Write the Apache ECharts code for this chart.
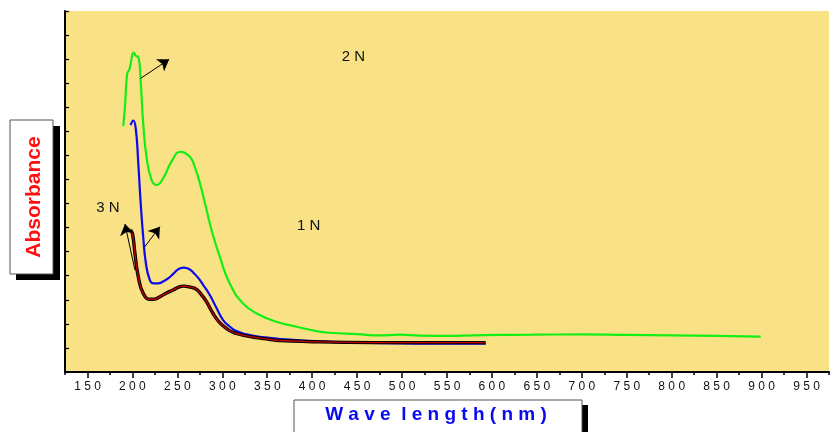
<!DOCTYPE html>
<html>
<head>
<meta charset="utf-8">
<script src="https://cdn.jsdelivr.net/npm/echarts@6/dist/echarts.min.js"></script>
<style>
  html, body { margin: 0; padding: 0; background: #ffffff; }
  #chart { width: 831px; height: 432px; }
</style>
</head>
<body>
<div id="chart"></div>
<script>
// UV-Vis absorbance spectra (wavelength in nm, absorbance in a.u.)
const wl2N = [189.8, 191.7, 194.2, 196.5, 201.7, 203.9, 206.5, 209.1, 212, 215.7, 221.3, 226.9, 234.2, 243.5, 253.5, 263.9, 270, 276, 282, 288, 297.2, 308.3, 323.1, 341.7, 360.2, 382.4, 404.7, 419.4, 450, 475, 497, 520, 549, 580, 608, 645, 700, 750, 800, 850, 899];
const abs2N = [1.022, 1.102, 1.241, 1.255, 1.327, 1.313, 1.31, 1.213, 1.033, 0.894, 0.798, 0.777, 0.805, 0.874, 0.915, 0.894, 0.845, 0.772, 0.682, 0.59, 0.479, 0.368, 0.285, 0.237, 0.209, 0.188, 0.170, 0.163, 0.157, 0.152, 0.155, 0.151, 0.150, 0.152, 0.154, 0.155, 0.156, 0.154, 0.152, 0.150, 0.147];

const wl1N = [198, 201, 203.9, 206.5, 209.1, 212, 215, 219.4, 223.5, 228.7, 234, 239.8, 246, 251, 257, 263, 268, 273, 278.7, 286.1, 293, 300.9, 308, 315.7, 326.9, 340, 352.8, 363.9, 382.4, 410, 438, 480, 530, 593];
const abs1N = [1.026, 1.045, 1.005, 0.87, 0.708, 0.562, 0.452, 0.382, 0.368, 0.368, 0.376, 0.389, 0.41, 0.427, 0.434, 0.428, 0.412, 0.392, 0.362, 0.32, 0.27, 0.216, 0.19, 0.17, 0.157, 0.147, 0.142, 0.137, 0.133, 0.127, 0.122, 0.12, 0.118, 0.118];

const wl3N = [198, 200.2, 202.8, 206.5, 212, 219.4, 225, 230.6, 238, 245.3, 251, 257, 263, 271.3, 278.7, 282.4, 289.8, 296, 300.9, 308, 315.7, 326.9, 338, 352, 363.9, 400, 438, 500, 593];
const abs3N = [0.59, 0.573, 0.493, 0.396, 0.327, 0.302, 0.303, 0.313, 0.328, 0.341, 0.352, 0.357, 0.354, 0.343, 0.312, 0.292, 0.243, 0.21, 0.192, 0.172, 0.16, 0.15, 0.143, 0.136, 0.131, 0.126, 0.123, 0.122, 0.122];

// Tick values on the wavelength axis
const majorTicks = [150, 200, 250, 300, 350, 400, 450, 500, 550, 600, 650, 700, 750, 800, 850, 900, 950];
const minorTicks = [125, 175, 225, 275, 325, 375, 425, 475, 525, 575, 625, 675, 725, 775, 825, 875, 925, 975];

// Curve annotations: label text and [wavelength, absorbance] anchor
const annoText = ['2 N', '1 N', '3 N'];
const annoPos = [[446, 1.309], [396, 0.607], [172.8, 0.681]];

// Arrows: [tail, head] in data coordinates
const arrows = [
  [[209.1, 1.220], [240.9, 1.299]],
  [[213.9, 0.521], [230.6, 0.604]],
  [[202.8, 0.424], [191.7, 0.615]]
];

const zip = (xs, ys) => xs.map((x, i) => [x, ys[i]]);

const chart = echarts.init(document.getElementById('chart'), null, { renderer: 'canvas' });

const option = {
  animation: false,
  backgroundColor: '#ffffff',
  grid: {
    left: 65, right: 2, top: 11, bottom: 60,
    show: true, backgroundColor: '#F9E286', borderWidth: 0
  },
  xAxis: [
    {
      type: 'value', min: 125, max: 975, position: 'bottom',
      axisLine: { show: true, lineStyle: { color: '#000', width: 2 } },
      axisTick: { show: true, customValues: majorTicks, length: 6, lineStyle: { color: '#000', width: 1.5 } },
      axisLabel: {
        customValues: majorTicks, margin: 9,
        formatter: v => String(v).split('').join(' '),
        fontFamily: 'Liberation Sans, Arial, sans-serif', fontSize: 12, color: '#111'
      },
      splitLine: { show: false }
    },
    {
      type: 'value', min: 125, max: 975, position: 'bottom',
      axisLine: { show: false },
      axisTick: { show: true, customValues: minorTicks, length: 3, lineStyle: { color: '#000', width: 1.5 } },
      axisLabel: { show: false },
      splitLine: { show: false }
    }
  ],
  yAxis: {
    type: 'value', min: 0, max: 1.5, interval: 0.1,
    axisLine: { show: true, lineStyle: { color: '#000', width: 2 } },
    axisTick: { show: true, inside: true, length: 4, lineStyle: { color: '#000', width: 1.2 } },
    axisLabel: { show: false },
    splitLine: { show: false }
  },
  series: [
    {
      name: '2 N', type: 'line', data: zip(wl2N, abs2N), smooth: 0.5,
      symbol: 'none', lineStyle: { color: '#14ee14', width: 2.2 }, z: 3
    },
    {
      name: '1 N', type: 'line', data: zip(wl1N, abs1N), smooth: 0.5,
      symbol: 'none', lineStyle: { color: '#0a0af0', width: 2.2 }, z: 4
    },
    {
      name: '3 N outline', type: 'line', data: zip(wl3N, abs3N), smooth: 0.5,
      symbol: 'none', lineStyle: { color: '#000000', width: 3.4 }, z: 5
    },
    {
      name: '3 N', type: 'line', data: zip(wl3N, abs3N), smooth: 0.5,
      symbol: 'none', lineStyle: { color: '#c00000', width: 1.4 }, z: 6
    },
    {
      name: 'arrows', type: 'lines', coordinateSystem: 'cartesian2d',
      data: arrows.map(a => ({ coords: a })),
      symbol: ['none', 'arrow'], symbolSize: [8, 11],
      lineStyle: { color: '#000', width: 1, opacity: 1, curveness: 0 },
      z: 7
    }
  ]
};
chart.setOption(option);

// Text annotations and the boxed axis titles
const annoGraphics = annoText.map((t, i) => {
  const p = chart.convertToPixel({ gridIndex: 0 }, annoPos[i]);
  return {
    type: 'text', x: p[0], y: p[1], z: 10,
    style: {
      text: t, fill: '#111', font: '15px "Liberation Sans", Arial, sans-serif',
      align: 'center', verticalAlign: 'middle'
    }
  };
});

chart.setOption({
  graphic: [
    ...annoGraphics,
    // y-axis title box with drop shadow
    { type: 'rect', shape: { x: 16, y: 126, width: 44, height: 154 }, style: { fill: '#000' }, z: 10 },
    { type: 'rect', shape: { x: 10, y: 120, width: 43, height: 154 }, style: { fill: '#fff', stroke: '#555', lineWidth: 1 }, z: 11 },
    {
      type: 'text', x: 34, y: 197, rotation: Math.PI / 2, z: 12,
      style: {
        text: 'Absorbance', fill: '#ff1010',
        font: 'bold 21px "Liberation Sans", Arial, sans-serif',
        align: 'center', verticalAlign: 'middle'
      }
    },
    // x-axis title box with drop shadow
    { type: 'rect', shape: { x: 300, y: 405, width: 288, height: 40 }, style: { fill: '#000' }, z: 10 },
    { type: 'rect', shape: { x: 294, y: 400, width: 288, height: 40 }, style: { fill: '#fff', stroke: '#555', lineWidth: 1 }, z: 11 },
    {
      type: 'text', x: 436, y: 415, z: 12,
      style: {
        text: 'W a v e  l e n g t h ( n m )', fill: '#0a0af0',
        font: 'bold 19px "Liberation Sans", Arial, sans-serif',
        align: 'center', verticalAlign: 'middle'
      }
    }
  ]
});
</script>
</body>
</html>
